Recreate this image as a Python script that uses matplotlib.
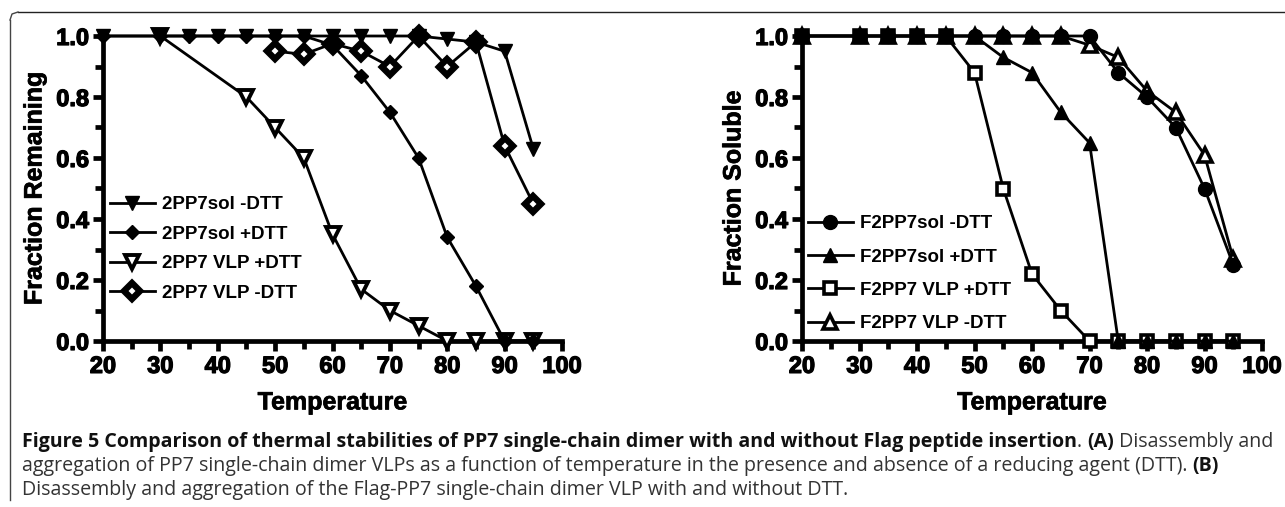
import matplotlib
matplotlib.use("Agg")
import matplotlib.pyplot as plt
import matplotlib.font_manager as fm
import matplotlib.patheffects as pe
from matplotlib.ticker import MultipleLocator
from matplotlib.lines import Line2D

# ── Data ─────────────────────────────────────────────────────────────────────
temps = [20, 30, 35, 40, 45, 50, 55, 60, 65, 70, 75, 80, 85, 90, 95]

# Panel A
sol_minus = [1.0, 1.0, 1.0, 1.0, 1.0, 1.0, 1.0, 1.0, 1.0, 1.0, 1.0, 0.99, 0.98, 0.95, 0.63]
sol_plus = [1.0, 1.0, 1.0, 1.0, 1.0, 1.0, 1.0, 0.97, 0.87, 0.75, 0.60, 0.34, 0.18, 0.0, 0.0]
vlp_plus_temps = [30, 45, 50, 55, 60, 65, 70, 75, 80, 85, 90, 95]
vlp_plus = [1.0, 0.80, 0.70, 0.60, 0.35, 0.17, 0.10, 0.05, 0.0, 0.0, 0.0, 0.0]
vlp_minus_temps = [50, 55, 60, 65, 70, 75, 80, 85, 90, 95]
vlp_minus = [0.95, 0.94, 0.975, 0.95, 0.90, 1.0, 0.90, 0.98, 0.64, 0.45]

# Panel B
f_sol_minus = [1.0, 1.0, 1.0, 1.0, 1.0, 1.0, 1.0, 1.0, 1.0, 1.0, 0.88, 0.80, 0.70, 0.50, 0.25]
f_sol_plus = [1.0, 1.0, 1.0, 1.0, 1.0, 1.0, 0.93, 0.88, 0.75, 0.65, 0.0, 0.0, 0.0, 0.0, 0.0]
f_vlp_plus = [1.0, 1.0, 1.0, 1.0, 1.0, 0.88, 0.50, 0.22, 0.10, 0.0, 0.0, 0.0, 0.0, 0.0, 0.0]
f_vlp_minus = [1.0, 1.0, 1.0, 1.0, 1.0, 1.0, 1.0, 1.0, 1.0, 0.97, 0.93, 0.82, 0.75, 0.61, 0.27]

labels_a = ["2PP7sol -DTT", "2PP7sol +DTT", "2PP7 VLP +DTT", "2PP7 VLP -DTT"]
labels_b = ["F2PP7sol -DTT", "F2PP7sol +DTT", "F2PP7 VLP +DTT", "F2PP7 VLP -DTT"]

xticks = [20, 30, 40, 50, 60, 70, 80, 90, 100]
yticks = [0.0, 0.2, 0.4, 0.6, 0.8, 1.0]

caption_lines = [
    [("Figure 5 Comparison of thermal stabilities of PP7 single-chain dimer with and without Flag peptide insertion", True),
     (". ", False), ("(A)", True), (" Disassembly and", False)],
    [("aggregation of PP7 single-chain dimer VLPs as a function of temperature in the presence and absence of a reducing agent (DTT). ", False),
     ("(B)", True)],
    [("Disassembly and aggregation of the Flag-PP7 single-chain dimer VLP with and without DTT.", False)],
]

# ── Fonts ────────────────────────────────────────────────────────────────────
available = {f.name for f in fm.fontManager.ttflist}
CHART_FONT = "Liberation Sans" if "Liberation Sans" in available else "DejaVu Sans"
CAP_FONT = "Liberation Sans Narrow" if "Liberation Sans Narrow" in available else "Open Sans"
plt.rcParams["font.family"] = [CHART_FONT, "DejaVu Sans"]

W, H = 1285, 507
fig = plt.figure(figsize=(W / 100, H / 100), dpi=100)
fig.patch.set_facecolor("white")

heavy_ticks = [pe.withStroke(linewidth=0.9, foreground="black")]
heavy_label = [pe.withStroke(linewidth=0.5, foreground="black")]


def px_axes(x0, x1, ytop, ybot):
    return fig.add_axes([x0 / W, 1 - ybot / H, (x1 - x0) / W, (ybot - ytop) / H])


ax_a = px_axes(103, 562, 36, 341)
ax_b = px_axes(802, 1262, 36, 341)

LW = 2.0
common = dict(color="black", linewidth=LW, clip_on=False, markeredgecolor="black")

# Panel A — filled markers drawn on top of the open ones
a_vlp_plus, = ax_a.plot(vlp_plus_temps, vlp_plus, marker="v", markersize=10,
                        markerfacecolor="white", markeredgewidth=2.8,
                        label=labels_a[2], zorder=3, **common)
a_vlp_minus, = ax_a.plot(vlp_minus_temps, vlp_minus, marker="D", markersize=7.8,
                         markerfacecolor="white", markeredgewidth=4.6,
                         label=labels_a[3], zorder=3, **common)
a_sol_plus, = ax_a.plot(temps, sol_plus, marker="D", markersize=7, markerfacecolor="black",
                        label=labels_a[1], zorder=4, **common)
a_sol_minus, = ax_a.plot(temps, sol_minus, marker="v", markersize=10.5, markerfacecolor="black",
                         label=labels_a[0], zorder=5, **common)

# Panel B — open markers underneath the filled ones
b_vlp_minus, = ax_b.plot(temps, f_vlp_minus, marker="^", markersize=10,
                         markerfacecolor="white", markeredgewidth=2.6,
                         label=labels_b[3], zorder=3, **common)
b_vlp_plus, = ax_b.plot(temps, f_vlp_plus, marker="s", markersize=8.5,
                        markerfacecolor="white", markeredgewidth=2.6,
                        label=labels_b[2], zorder=3, **common)
b_sol_plus, = ax_b.plot(temps, f_sol_plus, marker="^", markersize=10, markerfacecolor="black",
                        label=labels_b[1], zorder=4, **common)
b_sol_minus, = ax_b.plot(temps, f_sol_minus, marker="o", markersize=10, markerfacecolor="black",
                         label=labels_b[0], zorder=5, **common)

for ax, ylabel in ((ax_a, "Fraction Remaining"), (ax_b, "Fraction Soluble")):
    ax.set_xlim(20, 100)
    ax.set_ylim(0, 1)
    ax.set_xticks(xticks)
    ax.set_yticks(yticks)
    ax.set_yticklabels([f"{v:.1f}" for v in yticks])
    ax.xaxis.set_minor_locator(MultipleLocator(5))
    ax.yaxis.set_minor_locator(MultipleLocator(0.1))
    for s in ("top", "right"):
        ax.spines[s].set_visible(False)
    for s in ("left", "bottom"):
        ax.spines[s].set_linewidth(3.4)
        ax.spines[s].set_zorder(2)
    ax.tick_params(which="major", direction="out", length=7, width=3.4, pad=3,
                   labelsize=17)
    ax.tick_params(which="minor", direction="out", length=6, width=3.4)
    for lab in ax.get_xticklabels() + ax.get_yticklabels():
        lab.set_fontweight("bold")
        lab.set_path_effects(heavy_ticks)
    ax.set_xlabel("Temperature", fontsize=18, fontweight="bold", labelpad=9,
                  path_effects=heavy_label)
    ax.set_ylabel(ylabel, fontsize=18, fontweight="bold", labelpad=7,
                  path_effects=heavy_label)
    ax.patch.set_visible(False)

leg_kw = dict(loc="upper left", frameon=False, borderpad=0, borderaxespad=0,
              handlelength=2.4, handletextpad=0.4, numpoints=1,
              prop={"family": CHART_FONT, "weight": "bold", "size": 13.5})
ax_a.legend([a_sol_minus, a_sol_plus, a_vlp_plus, a_vlp_minus], labels_a,
            bbox_to_anchor=(0.015, 0.475), labelspacing=0.66, **leg_kw)
ax_b.legend([b_sol_minus, b_sol_plus, b_vlp_plus, b_vlp_minus], labels_b,
            bbox_to_anchor=(0.013, 0.412), labelspacing=0.86, **leg_kw)

# ── Border ───────────────────────────────────────────────────────────────────
fig.add_artist(Line2D([10 / W, 10 / W], [1 - 20 / H, 1 - 500 / H], color="#444444",
                      linewidth=1.0, transform=fig.transFigure))
fig.add_artist(Line2D([18 / W, 1.0], [1 - 12 / H, 1 - 12 / H], color="#222222",
                      linewidth=1.0, transform=fig.transFigure))
fig.add_artist(Line2D([10 / W, 12 / W, 18 / W], [1 - 20 / H, 1 - 14 / H, 1 - 12 / H],
                      color="#444444", linewidth=1.0, transform=fig.transFigure))

# ── Caption ──────────────────────────────────────────────────────────────────
renderer = fig.canvas.get_renderer()


def draw_line(line, ypx, size, visible=True):
    x = 22
    for text, bold in line:
        t = fig.text(x / W, 1 - ypx / H, text, fontsize=size,
                     family=[CAP_FONT, "DejaVu Sans"],
                     fontweight="bold" if bold else "normal",
                     color="#111111" if bold else "#333333",
                     ha="left", va="center")
        x += t.get_window_extent(renderer).width
        if not visible:
            t.remove()
    return x - 22


# fit the first caption line to the width it has in the figure
probe = draw_line(caption_lines[0], 0, 10, visible=False)
cap_size = 10 * 1253 / probe
for line, ypx in zip(caption_lines, [442, 466, 490]):
    draw_line(line, ypx, cap_size)

fig.savefig("out.png", dpi=100, facecolor="white")
